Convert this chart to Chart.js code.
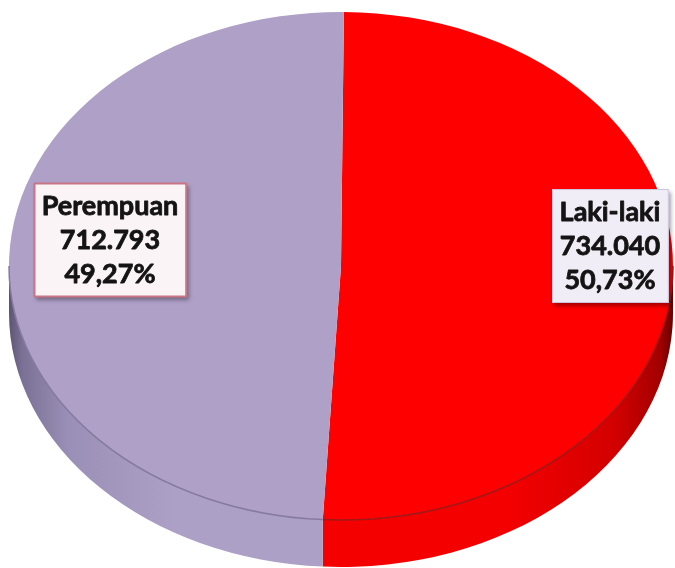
<!DOCTYPE html>
<html><head><meta charset="utf-8">
<script src="https://cdn.jsdelivr.net/npm/chart.js@4.4.0/dist/chart.umd.min.js"></script>
<style>html,body{margin:0;padding:0;background:#fff;overflow:hidden}canvas{display:block}</style>
</head><body>
<canvas id="c" width="675" height="568"></canvas>
<script>
// ---- data ----
const categories = ['Laki-laki', 'Perempuan'];
const values = [734040, 712793];
const sliceColors = ['#FF0000', '#AFA0C8'];

// ---- layout / style ----
const TILT = {cx: 341, cy: 266, rx: 332, ry: 254, depth: 47};
const sideStyles = [
  {light: '#F40000', mid: '#D40000', dark: '#A40000', edge: '#6A0000', rim: '#A01818'},
  {light: '#ADA0C6', mid: '#9A8FB6', dark: '#7B7196', edge: '#5C5474', rim: '#857AA0'}
];
const labelBoxes = [
  {cx: 610, cy: 246, fill: '#F1EDF6', stroke: '#CDC4DD', lw: 1},
  {cx: 110, cy: 240, fill: '#FBF4F6', stroke: '#C97585', lw: 2}
];
const FONT = 'bold 27px Lato';
const LINE_H = 34;

const total = values.reduce((a, b) => a + b, 0);
const fmtVal = v => String(v).replace(/\B(?=(\d{3})+(?!\d))/g, '.');
const fmtPct = v => (v / total * 100).toFixed(2).replace('.', ',') + '%';

function frontRanges(s, e) {
  const out = [];
  for (const k of [-2, 0, 2]) {
    const lo = Math.max(s, k * Math.PI), hi = Math.min(e, k * Math.PI + Math.PI);
    if (hi > lo) out.push([lo, hi]);
  }
  return out;
}

function arcGeom(chart) {
  const a = chart.getDatasetMeta(0).data[0];
  return a.getProps(['x', 'y', 'outerRadius'], true);
}

const tiltPlugin = {
  id: 'tilt3d',
  beforeDatasetsDraw(chart) {
    const ctx = chart.ctx;
    const {cx, cy, rx, ry, depth} = TILT;
    const meta = chart.getDatasetMeta(0);
    meta.data.forEach((arc, i) => {
      const {startAngle, endAngle} = arc.getProps(['startAngle', 'endAngle'], true);
      const st = sideStyles[i % sideStyles.length];
      frontRanges(startAngle, endAngle).forEach(([a1, a2]) => {
        const midX = cx + rx * Math.cos((a1 + a2) / 2);
        const toRight = midX > cx;
        const g = ctx.createLinearGradient(cx, 0, toRight ? cx + rx : cx - rx, 0);
        g.addColorStop(0, st.light);
        g.addColorStop(0.5, st.light);
        g.addColorStop(0.82, st.mid);
        g.addColorStop(0.96, st.dark);
        g.addColorStop(1, st.edge);
        ctx.save();
        ctx.beginPath();
        ctx.ellipse(cx, cy, rx, ry, 0, a1, a2, false);
        ctx.ellipse(cx, cy + depth, rx, ry, 0, a2, a1, true);
        ctx.closePath();
        ctx.fillStyle = g;
        ctx.fill();
        ctx.restore();
      });
    });
    const {x, y, outerRadius} = arcGeom(chart);
    ctx.save();
    ctx.translate(cx, cy);
    ctx.scale(rx / outerRadius, ry / outerRadius);
    ctx.translate(-x, -y);
  },
  afterDatasetsDraw(chart) {
    const ctx = chart.ctx;
    ctx.restore();
    const {cx, cy, rx, ry} = TILT;
    const meta = chart.getDatasetMeta(0);
    meta.data.forEach((arc, i) => {
      const {startAngle, endAngle} = arc.getProps(['startAngle', 'endAngle'], true);
      const st = sideStyles[i % sideStyles.length];
      frontRanges(startAngle, endAngle).forEach(([a1, a2]) => {
        ctx.save();
        ctx.beginPath();
        ctx.ellipse(cx, cy, rx, ry, 0, a1, a2, false);
        ctx.strokeStyle = st.rim;
        ctx.lineWidth = 1.5;
        ctx.stroke();
        ctx.restore();
      });
    });
  },
  afterDraw(chart) {
    const ctx = chart.ctx;
    ctx.save();
    ctx.font = FONT;
    ctx.textAlign = 'center';
    ctx.textBaseline = 'middle';
    categories.forEach((name, i) => {
      const lines = [name, fmtVal(values[i]), fmtPct(values[i])];
      const b = labelBoxes[i];
      const w = Math.max(...lines.map(t => ctx.measureText(t).width)) + 16;
      const h = lines.length * LINE_H + 12;
      const x0 = Math.round(b.cx - w / 2), y0 = Math.round(b.cy - h / 2);
      ctx.save();
      ctx.shadowColor = 'rgba(0,0,0,0.35)';
      ctx.shadowBlur = 4;
      ctx.shadowOffsetX = 2;
      ctx.shadowOffsetY = 3;
      ctx.fillStyle = b.fill;
      ctx.fillRect(x0, y0, w, h);
      ctx.restore();
      ctx.strokeStyle = b.stroke;
      ctx.lineWidth = b.lw;
      ctx.strokeRect(x0 + 0.5, y0 + 0.5, w - 1, h - 1);
      ctx.fillStyle = '#141414';
      ctx.strokeStyle = '#141414';
      ctx.lineWidth = 0.8;
      ctx.lineJoin = 'round';
      lines.forEach((t, k) => {
        const ty = b.cy + (k - (lines.length - 1) / 2) * LINE_H;
        ctx.fillText(t, b.cx, ty);
        ctx.strokeText(t, b.cx, ty);
      });
    });
    ctx.restore();
  }
};

new Chart(document.getElementById('c'), {
  type: 'pie',
  data: {
    labels: categories,
    datasets: [{
      data: values,
      backgroundColor: sliceColors,
      borderWidth: 0,
      hoverOffset: 0
    }]
  },
  options: {
    responsive: false,
    animation: false,
    events: [],
    rotation: 0.5,
    layout: {padding: 0},
    plugins: {legend: {display: false}, tooltip: {enabled: false}}
  },
  plugins: [tiltPlugin]
});
</script>
</body></html>
